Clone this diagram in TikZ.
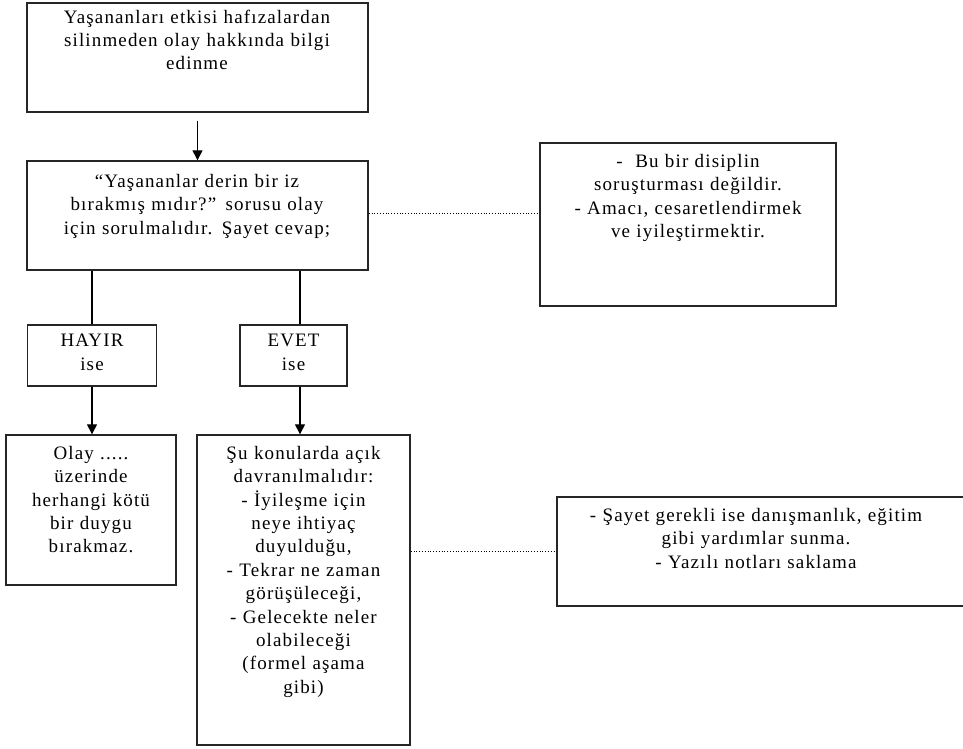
\documentclass[tikz,border=0pt]{standalone}
\usepackage{fontspec}
\setmainfont[LetterSpace=6]{Liberation Serif}
\usetikzlibrary{shapes,arrows,arrows.meta}

\begin{document}
\begin{tikzpicture}[x=1pt, y=-1pt, >={Triangle[width=10pt,length=10pt]},
  box/.style={draw=black!85, line width=1.4pt, inner sep=0pt},
  txt/.style={align=center, anchor=north, inner sep=0pt, text width=420pt, font=\fontsize{19}{23.4}\selectfont}]
  \useasboundingbox (0,0) rectangle (963,749);
  \clip (0,0) rectangle (963,749);

  % Boxes
  \node[box, minimum width=341pt, minimum height=109pt] (start) at (197.5, 57.5) {};
  \node[box, minimum width=341pt, minimum height=109pt] (question) at (197.5, 215.5) {};
  \node[box, minimum width=296pt, minimum height=163pt] (note1) at (688, 224.5) {};
  \node[box, minimum width=129pt, minimum height=61pt] (no) at (92, 355.5) {};
  \node[box, minimum width=107pt, minimum height=61pt] (yes) at (293.5, 355.5) {};
  \node[box, minimum width=170pt, minimum height=150pt] (noresult) at (91, 510) {};
  \node[box, minimum width=213pt, minimum height=310pt] (yesresult) at (303.5, 590) {};
  \node[box, minimum width=430pt, minimum height=109pt] (note2) at (772, 551.5) {};

  % Texts
  \node[txt] (startText) at (197, 9.5) {Yaşananları etkisi hafızalardan\\silinmeden olay hakkında bilgi\\edinme};
  \node[txt] (questionText) at (197, 174) {“Yaşananlar derin bir iz\\bırakmış mıdır?” sorusu olay\\için sorulmalıdır. Şayet cevap;};
  \node[txt] (note1Text) at (688, 154) {-\ \ Bu bir disiplin\\soruşturması değildir.\\- Amacı, cesaretlendirmek\\ve iyileştirmektir.};
  \node[txt] (noText) at (92, 334) {HAYIR\\ise};
  \node[txt] (yesText) at (293.5, 334) {EVET\\ise};
  \node[txt] (noresultText) at (91, 446) {Olay .....\\üzerinde\\herhangi kötü\\bir duygu\\bırakmaz.};
  \node[txt] (yesresultText) at (303.5, 446) {Şu konularda açık\\davranılmalıdır:\\- İyileşme için\\neye ihtiyaç\\duyulduğu,\\- Tekrar ne zaman\\görüşüleceği,\\- Gelecekte neler\\olabileceği\\(formel aşama\\gibi)};
  \node[txt] (note2Text) at (756, 508) {- Şayet gerekli ise danışmanlık, eğitim\\gibi yardımlar sunma.\\- Yazılı notları saklama};

  % Branch line
  \coordinate (yesLine) at (300, 0);

  % Arrows
  \draw[->, line width=1.3pt, shorten <=8pt] (start.south) -- (question.north);
  \draw[line width=1.3pt] (question.south -| no.north) -- (no.north);
  \draw[line width=1.3pt] (question.south -| yesLine) -- (yes.north -| yesLine);
  \draw[->, line width=1.3pt] (no.south) -- (noresult.north -| no.south);
  \draw[->, line width=1.3pt] (yes.south -| yesLine) -- (yesresult.north -| yesLine);

  % Dotted links
  \draw[dotted, line width=0.8pt] (question.east |- 0,213) -- (note1.west |- 0,213);
  \draw[dotted, line width=0.8pt] (yesresult.east |- note2.west) -- (note2.west);
\end{tikzpicture}
\end{document}
